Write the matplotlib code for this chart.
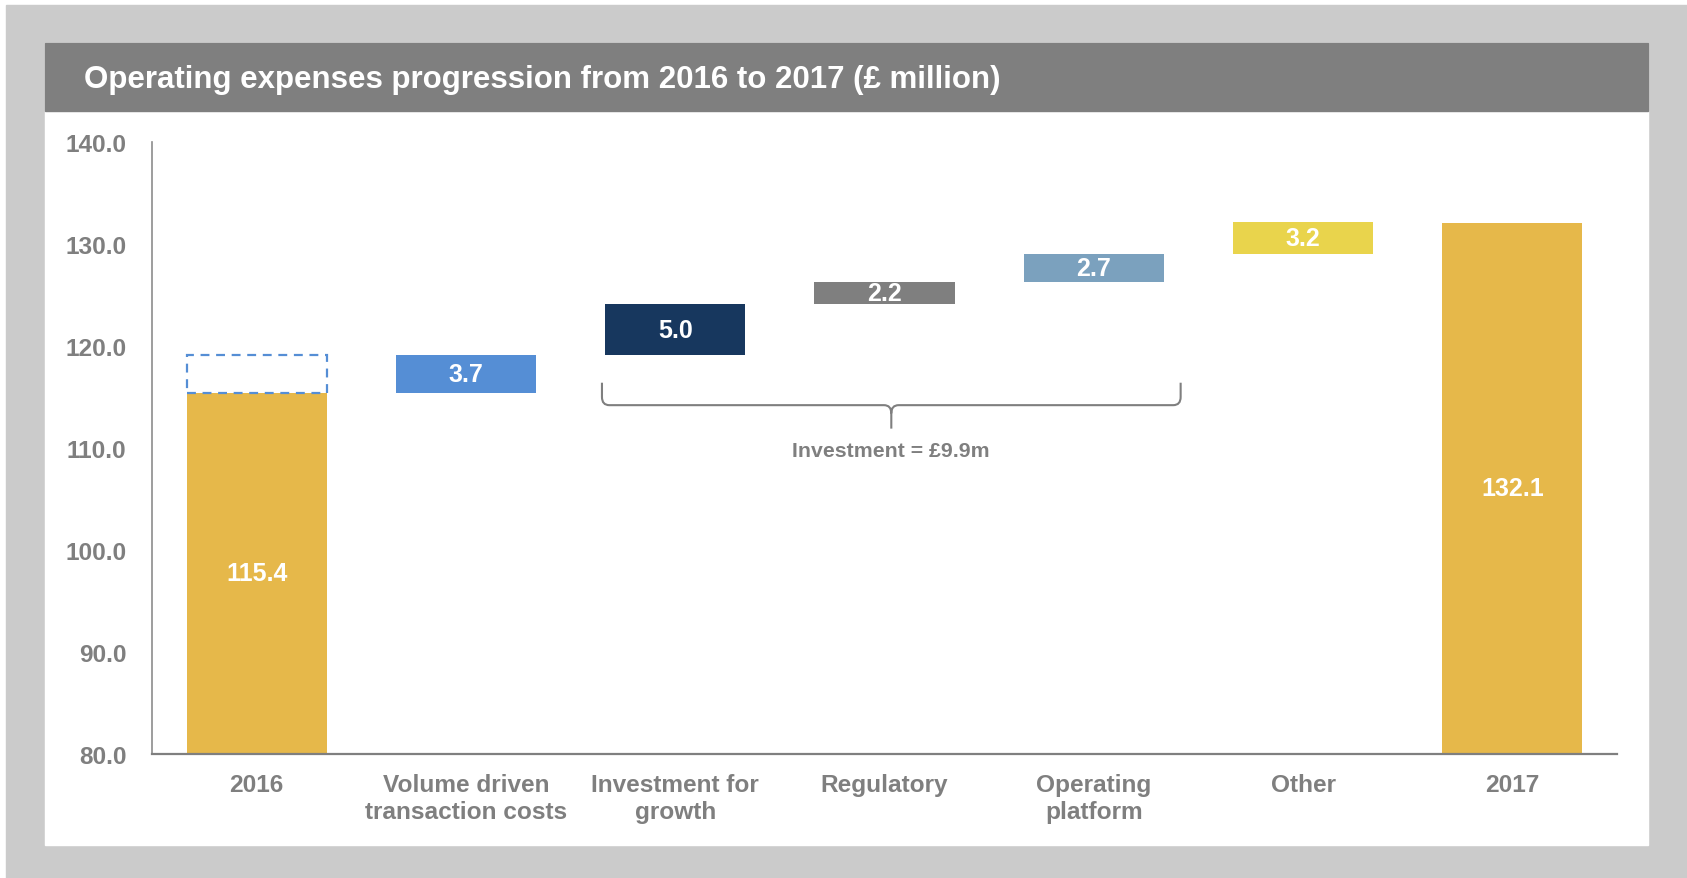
import numpy as np
import matplotlib.pyplot as plt
from matplotlib.patches import Rectangle, PathPatch
from matplotlib.path import Path

plt.rcParams['font.family'] = ['Liberation Sans', 'DejaVu Sans']
plt.rcParams['font.weight'] = 'bold'

# opex bridge, £ million
categories = ['2016', 'Volume driven\ntransaction costs', 'Investment for\ngrowth',
              'Regulatory', 'Operating\nplatform', 'Other', '2017']
start_value = 115.4
steps = [3.7, 5.0, 2.2, 2.7, 3.2]
end_value = 132.1
step_colors = ['#558ED5', '#17375E', '#7F7F7F', '#7BA1BE', '#E9D44C']
total_color = '#E6B84A'
grey = '#7F7F7F'

fig = plt.figure(figsize=(16.87, 8.79), dpi=100)
W, H = 1687, 879

def px_rect(x0, y0, x1, y1, color):
    fig.patches.append(Rectangle((x0 / W, 1 - y1 / H), (x1 - x0) / W, (y1 - y0) / H,
                                 transform=fig.transFigure, color=color, zorder=-10))

# frame, white panel and title banner
px_rect(6, 6, W, H, '#CBCBCB')
px_rect(45, 44, 1648, 846, 'white')
px_rect(45, 44, 1648, 112, grey)
fig.text(84 / W, 1 - 80 / H, 'Operating expenses progression from 2016 to 2017 (£ million)',
         color='white', fontsize=22.5, fontweight='bold', va='center', ha='left')

ax = fig.add_axes([152 / W, 1 - 755 / H, (1617 - 152) / W, (755 - 143) / H])
ax.set_facecolor('none')

x = np.arange(len(categories))
width = 0.67
bases = start_value + np.concatenate([[0], np.cumsum(steps)[:-1]])

ax.bar(x[0], start_value - 80, bottom=80, width=width, color=total_color)
ax.bar(x[-1], end_value - 80, bottom=80, width=width, color=total_color)
ax.bar(x[1:-1], steps, bottom=bases, width=width, color=step_colors)

# dashed outline of the first step sitting on top of 2016
ax.add_patch(Rectangle((x[0] - width / 2, start_value), width, steps[0], fill=False,
                       edgecolor=step_colors[0], linestyle=(0, (4, 3)), linewidth=1.6))

lab = dict(color='white', fontsize=18, fontweight='bold', ha='center', va='center')
ax.text(x[0], (80 + start_value) / 2, f'{start_value:.1f}', **lab)
ax.text(x[-1], (80 + end_value) / 2, f'{end_value:.1f}', **lab)
for xi, b, s in zip(x[1:-1], bases, steps):
    ax.text(xi, b + s / 2, f'{s:.1f}', **lab)

# brace grouping the investment steps
x0, x1 = 1.65, 4.415
xm = (x0 + x1) / 2
y_tip, y_h, y_pt = 116.4, 114.2, 111.9
rx, ry = 0.035, 0.8
verts = [(x0, y_tip), (x0, y_h + ry), (x0, y_h), (x0 + rx, y_h), (xm - rx, y_h),
         (xm, y_h), (xm, y_h - ry), (xm, y_pt),
         (x1, y_tip), (x1, y_h + ry), (x1, y_h), (x1 - rx, y_h), (xm + rx, y_h),
         (xm, y_h), (xm, y_h - ry)]
codes = [Path.MOVETO, Path.LINETO, Path.CURVE3, Path.CURVE3, Path.LINETO,
         Path.CURVE3, Path.CURVE3, Path.LINETO,
         Path.MOVETO, Path.LINETO, Path.CURVE3, Path.CURVE3, Path.LINETO,
         Path.CURVE3, Path.CURVE3]
ax.add_patch(PathPatch(Path(verts, codes), fill=False, edgecolor=grey, linewidth=1.5))
invest = sum(steps[1:4])
ax.text(xm, 109.8, f'Investment = £{invest:.1f}m', color=grey, fontsize=15.3,
        fontweight='bold', ha='center', va='center')

ax.set_xlim(-0.5, len(categories) - 0.5)
ax.set_ylim(80, 140)
ax.set_yticks(np.arange(80, 141, 10))
ax.set_yticklabels([f'{v:.1f}' for v in np.arange(80, 141, 10)])
ax.set_xticks(x)
ax.set_xticklabels(categories, linespacing=1.25, va='top')
ax.tick_params(axis='both', length=0, colors=grey, labelsize=17.6)
ax.tick_params(axis='y', pad=18.5)
ax.tick_params(axis='x', pad=13.5)
for s in ['top', 'right']:
    ax.spines[s].set_visible(False)
ax.spines['left'].set_color('#8C8C8C')
ax.spines['left'].set_linewidth(1.2)
ax.spines['bottom'].set_color(grey)
ax.spines['bottom'].set_linewidth(1.6)

fig.savefig('out.png', dpi=100)
